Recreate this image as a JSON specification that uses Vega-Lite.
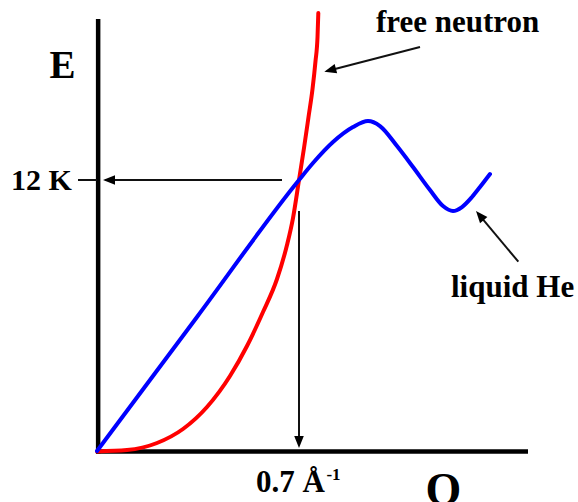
{
  "$schema": "https://vega.github.io/schema/vega-lite/v6.json",
  "width": 578,
  "height": 502,
  "padding": 0,
  "autosize": {"type": "none"},
  "background": "#ffffff",
  "config": {"view": {"stroke": null}},
  "datasets": {
    "curves": [
      {"series": "free neutron", "i": 0, "q": 0.0, "e": -0.02},
      {"series": "free neutron", "i": 1, "q": 0.105, "e": 0.04},
      {"series": "free neutron", "i": 2, "q": 0.21, "e": 0.354},
      {"series": "free neutron", "i": 3, "q": 0.301, "e": 0.974},
      {"series": "free neutron", "i": 4, "q": 0.385, "e": 1.948},
      {"series": "free neutron", "i": 5, "q": 0.4655, "e": 3.321},
      {"series": "free neutron", "i": 6, "q": 0.525, "e": 4.649},
      {"series": "free neutron", "i": 7, "q": 0.581, "e": 6.155},
      {"series": "free neutron", "i": 8, "q": 0.63, "e": 7.616},
      {"series": "free neutron", "i": 9, "q": 0.665, "e": 9.122},
      {"series": "free neutron", "i": 10, "q": 0.686, "e": 10.317},
      {"series": "free neutron", "i": 11, "q": 0.707, "e": 12.0},
      {"series": "free neutron", "i": 12, "q": 0.7245, "e": 13.417},
      {"series": "free neutron", "i": 13, "q": 0.7403, "e": 14.79},
      {"series": "free neutron", "i": 14, "q": 0.7543, "e": 16.029},
      {"series": "free neutron", "i": 15, "q": 0.7648, "e": 17.269},
      {"series": "free neutron", "i": 16, "q": 0.7718, "e": 18.332},
      {"series": "free neutron", "i": 17, "q": 0.7746, "e": 19.395},
      {"series": "liquid He", "i": 0, "q": 0.0, "e": 0.0},
      {"series": "liquid He", "i": 1, "q": 0.35, "e": 5.934},
      {"series": "liquid He", "i": 2, "q": 0.707, "e": 12.0},
      {"series": "liquid He", "i": 3, "q": 0.756, "e": 12.753},
      {"series": "liquid He", "i": 4, "q": 0.826, "e": 13.683},
      {"series": "liquid He", "i": 5, "q": 0.896, "e": 14.347},
      {"series": "liquid He", "i": 6, "q": 0.9485, "e": 14.612},
      {"series": "liquid He", "i": 7, "q": 0.9905, "e": 14.391},
      {"series": "liquid He", "i": 8, "q": 1.05, "e": 13.505},
      {"series": "liquid He", "i": 9, "q": 1.106, "e": 12.576},
      {"series": "liquid He", "i": 10, "q": 1.1655, "e": 11.557},
      {"series": "liquid He", "i": 11, "q": 1.211, "e": 10.849},
      {"series": "liquid He", "i": 12, "q": 1.246, "e": 10.627},
      {"series": "liquid He", "i": 13, "q": 1.2775, "e": 10.804},
      {"series": "liquid He", "i": 14, "q": 1.3125, "e": 11.247},
      {"series": "liquid He", "i": 15, "q": 1.3405, "e": 11.69},
      {"series": "liquid He", "i": 16, "q": 1.3755, "e": 12.266}
    ],
    "axes": [
      {"name": "Q axis", "q": -0.0035, "q2": 1.5085, "e": -0.02, "e2": -0.02},
      {"name": "E axis", "q": 0.004, "q2": 0.004, "e": 19.13, "e2": -0.11}
    ],
    "arrows": [
      {"name": "12 K tick", "q": -0.0665, "q2": 0.0, "e": 12.0, "e2": 12.0},
      {"name": "12 K arrow", "q": 0.6475, "q2": 0.03, "e": 12.0, "e2": 12.0},
      {"name": "0.7 arrow", "q": 0.707, "q2": 0.707, "e": 10.627, "e2": 0.5},
      {"name": "free neutron arrow", "q": 1.1305, "q2": 0.8159, "e": 17.889, "e2": 16.862},
      {"name": "liquid He arrow", "q": 1.4746, "q2": 1.3398, "e": 8.382, "e2": 10.423}
    ],
    "heads": [
      {"name": "12 K arrow", "q": 0.021, "e": 12.0, "ang": 270},
      {"name": "0.7 arrow", "q": 0.707, "e": 0.133, "ang": 180},
      {"name": "free neutron arrow", "q": 0.7956, "e": 16.796, "ang": 255},
      {"name": "liquid He arrow", "q": 1.3265, "e": 10.627, "ang": 320}
    ],
    "labels": [
      {"label": "E", "q": -0.16625, "e": 16.516, "fs": 39},
      {"label": "12 K", "q": -0.301, "e": 11.557, "fs": 30},
      {"label": "0.7 Å", "q": 0.5565, "e": -1.8155, "fs": 31},
      {"label": "-1", "q": 0.803, "e": -1.284, "fs": 17},
      {"label": "Q", "q": 1.1498, "e": -2.391, "fs": 46},
      {"label": "free neutron", "q": 0.9765, "e": 18.553, "fs": 31},
      {"label": "liquid He", "q": 1.239, "e": 6.819, "fs": 31}
    ]
  },
  "layer": [
    {
      "data": {"name": "axes"},
      "mark": {"type": "rule", "color": "#000000", "strokeWidth": 4.5, "strokeCap": "butt"},
      "encoding": {
        "x": {"field": "q", "type": "quantitative", "axis": null, "scale": {"domain": [-0.3395, 1.6835], "nice": false, "zero": false}},
        "x2": {"field": "q2"},
        "y": {"field": "e", "type": "quantitative", "axis": null, "scale": {"domain": [-2.258, 19.971], "nice": false, "zero": false}},
        "y2": {"field": "e2"}
      }
    },
    {
      "data": {"name": "arrows"},
      "mark": {"type": "rule", "color": "#111111", "strokeWidth": 2, "strokeCap": "butt"},
      "encoding": {
        "x": {"field": "q", "type": "quantitative", "axis": null, "scale": {"domain": [-0.3395, 1.6835], "nice": false, "zero": false}},
        "x2": {"field": "q2"},
        "y": {"field": "e", "type": "quantitative", "axis": null, "scale": {"domain": [-2.258, 19.971], "nice": false, "zero": false}},
        "y2": {"field": "e2"}
      }
    },
    {
      "data": {"name": "heads"},
      "mark": {"type": "point", "shape": "M0,0L-0.8,2L0.8,2Z", "filled": true, "color": "#000000", "opacity": 1, "size": 144, "strokeWidth": 0},
      "encoding": {
        "x": {"field": "q", "type": "quantitative", "axis": null, "scale": {"domain": [-0.3395, 1.6835], "nice": false, "zero": false}},
        "y": {"field": "e", "type": "quantitative", "axis": null, "scale": {"domain": [-2.258, 19.971], "nice": false, "zero": false}},
        "angle": {"field": "ang", "type": "quantitative", "scale": null}
      }
    },
    {
      "data": {"name": "curves"},
      "mark": {"type": "line", "strokeWidth": 4, "strokeCap": "round", "strokeJoin": "round", "interpolate": "monotone"},
      "encoding": {
        "x": {"field": "q", "type": "quantitative", "axis": null, "scale": {"domain": [-0.3395, 1.6835], "nice": false, "zero": false}},
        "y": {"field": "e", "type": "quantitative", "axis": null, "scale": {"domain": [-2.258, 19.971], "nice": false, "zero": false}},
        "color": {"field": "series", "type": "nominal", "legend": null, "scale": {"domain": ["free neutron", "liquid He"], "range": ["#ff0000", "#0000ff"]}},
        "order": {"field": "i", "type": "quantitative"}
      }
    },
    {
      "data": {"name": "labels"},
      "mark": {"type": "text", "align": "left", "baseline": "alphabetic", "font": "Liberation Serif", "fontWeight": "bold", "color": "#000000"},
      "encoding": {
        "x": {"field": "q", "type": "quantitative", "axis": null, "scale": {"domain": [-0.3395, 1.6835], "nice": false, "zero": false}},
        "y": {"field": "e", "type": "quantitative", "axis": null, "scale": {"domain": [-2.258, 19.971], "nice": false, "zero": false}},
        "text": {"field": "label", "type": "nominal"},
        "size": {"field": "fs", "type": "quantitative", "scale": null}
      }
    }
  ]
}
